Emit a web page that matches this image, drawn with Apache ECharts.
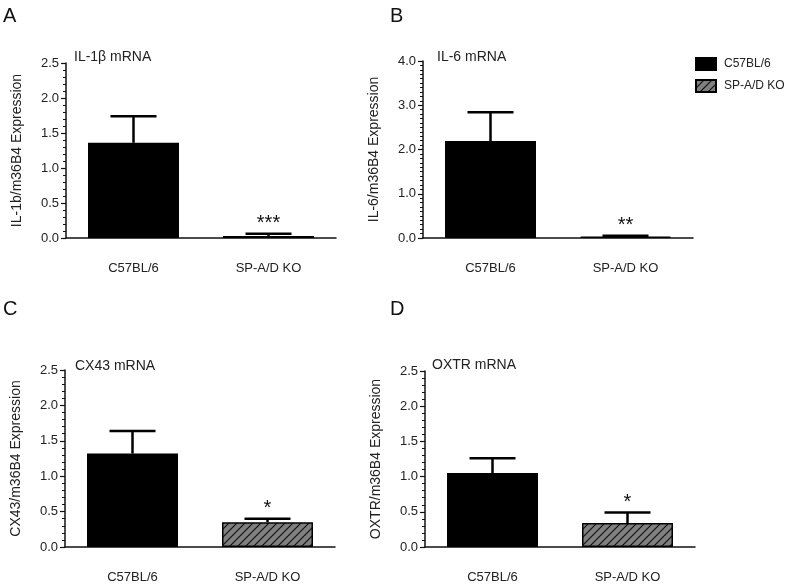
<!DOCTYPE html>
<html><head><meta charset="utf-8">
<script src="https://cdn.jsdelivr.net/npm/echarts@6/dist/echarts.min.js"></script>
<style>html,body{margin:0;padding:0;background:#fff}#c{width:794px;height:584px}</style>
</head><body><div id="c"></div>
<script>
const categories = ['C57BL/6', 'SP-A/D KO'];
const seriesNames = ['C57BL/6', 'SP-A/D KO'];
const panelLetters = ['A', 'B', 'C', 'D'];
const panelTitles = ['IL-1\u03b2 mRNA', 'IL-6 mRNA', 'CX43 mRNA', 'OXTR mRNA'];
const yAxisNames = ['IL-1b/m36B4 Expression', 'IL-6/m36B4 Expression', 'CX43/m36B4 Expression', 'OXTR/m36B4 Expression'];
const wtMeans = [1.36, 2.19, 1.32, 1.05];
const wtErrTops = [1.74, 2.84, 1.64, 1.26];
const koMeans = [0.03, 0.03, 0.35, 0.34];
const koErrTops = [0.06, 0.05, 0.40, 0.49];
const stars = ['***', '**', '*', '*'];
const yMax = [2.5, 4.0, 2.5, 2.5];
const yInterval = [0.5, 1.0, 0.5, 0.5];
const yMinorSplit = [5, 10, 5, 5];

const FONT = 'Liberation Sans, Arial, Helvetica, sans-serif';
const TXT = '#222';

// hatch pattern
const pc = document.createElement('canvas');
pc.width = 8; pc.height = 8;
const g = pc.getContext('2d');
g.fillStyle = '#808080'; g.fillRect(0, 0, 8, 8);
g.strokeStyle = '#111'; g.lineWidth = 1.2;
g.beginPath();
g.moveTo(-1, 9); g.lineTo(9, -1);
g.moveTo(-1, 1); g.lineTo(1, -1);
g.moveTo(7, 9); g.lineTo(9, 7);
g.stroke();
const hatch = { image: pc, repeat: 'repeat' };

const grids = [
  { left: 66, top: 63, width: 270, height: 175 },
  { left: 423, top: 61, width: 270, height: 177 },
  { left: 65, top: 370, width: 270, height: 177 },
  { left: 425, top: 371, width: 270, height: 176 }
];
const titlePos = [[74, 50], [437, 50], [75, 359], [432, 358]];
const letterPos = [[3, 6], [390, 6], [3, 299], [390, 299]];

const option = {
  animation: false,
  backgroundColor: '#fff',
  textStyle: { fontFamily: FONT },
  grid: grids,
  title: [],
  legend: {
    left: 695, top: 57, orient: 'vertical', padding: 0,
    itemWidth: 20, itemHeight: 12, itemGap: 8, icon: 'rect',
    textStyle: { fontFamily: FONT, fontSize: 12, color: TXT, padding: [0, 0, 0, 3] },
    data: seriesNames
  },
  xAxis: [], yAxis: [], series: []
};

for (let i = 0; i < 4; i++) {
  option.title.push({ text: panelLetters[i], left: letterPos[i][0], top: letterPos[i][1], padding: 0,
    textStyle: { fontFamily: FONT, fontSize: 20, fontWeight: 'normal', color: '#111' } });
  option.title.push({ text: panelTitles[i], left: titlePos[i][0], top: titlePos[i][1], padding: 0,
    textStyle: { fontFamily: FONT, fontSize: 14, fontWeight: 'normal', color: TXT } });
  option.xAxis.push({
    type: 'category', gridIndex: i, data: categories,
    axisLine: { lineStyle: { color: '#111', width: 1.5 } },
    axisTick: { alignWithLabel: true, length: 6, lineStyle: { color: '#111', width: 1.2 } },
    axisLabel: { margin: 24, fontSize: 13, color: TXT, fontFamily: FONT }
  });
  option.yAxis.push({
    type: 'value', gridIndex: i, min: 0, max: yMax[i], interval: yInterval[i],
    name: yAxisNames[i], nameLocation: 'middle', nameGap: 42,
    nameTextStyle: { fontSize: 14, color: TXT, fontFamily: FONT },
    axisLine: { show: true, lineStyle: { color: '#111', width: 1.5 } },
    axisTick: { show: true, length: 5, lineStyle: { color: '#111', width: 1.2 } },
    minorTick: { show: true, splitNumber: yMinorSplit[i], length: 3, lineStyle: { color: '#111', width: 1 } },
    splitLine: { show: false },
    axisLabel: { margin: 7, fontSize: 13, color: TXT, fontFamily: FONT, formatter: v => v.toFixed(1) }
  });
  option.series.push({
    name: seriesNames[0], type: 'bar', xAxisIndex: i, yAxisIndex: i,
    barWidth: 91, barGap: '-100%',
    itemStyle: { color: '#000', borderColor: '#000', borderWidth: 1.5 },
    data: [wtMeans[i], '-']
  });
  option.series.push({
    name: seriesNames[1], type: 'bar', xAxisIndex: i, yAxisIndex: i,
    barWidth: 91, barGap: '-100%',
    itemStyle: { color: hatch, borderColor: '#000', borderWidth: 1.5 },
    data: ['-', koMeans[i]]
  });
  option.series.push({
    type: 'custom', xAxisIndex: i, yAxisIndex: i, z: 5,
    data: [[0, wtMeans[i], wtErrTops[i], ''], [1, koMeans[i], koErrTops[i], stars[i]]],
    renderItem: function (params, api) {
      const base = api.coord([api.value(0), api.value(1)]);
      const top = api.coord([api.value(0), api.value(2)]);
      const hw = 23;
      const children = [
        { type: 'line', shape: { x1: base[0], y1: base[1], x2: top[0], y2: top[1] }, style: { stroke: '#000', lineWidth: 2.5 } },
        { type: 'line', shape: { x1: top[0] - hw, y1: top[1], x2: top[0] + hw, y2: top[1] }, style: { stroke: '#000', lineWidth: 2.5 } }
      ];
      const s = api.value(3);
      if (s) {
        children.push({ type: 'text', style: { text: s, x: top[0], y: top[1] - 10, textAlign: 'center', textVerticalAlign: 'middle', fontSize: 20, fontFamily: FONT, fill: '#111' } });
      }
      return { type: 'group', children: children };
    }
  });
}

const chart = echarts.init(document.getElementById('c'), null, { renderer: 'canvas' });
chart.setOption(option);
</script>
</body></html>
